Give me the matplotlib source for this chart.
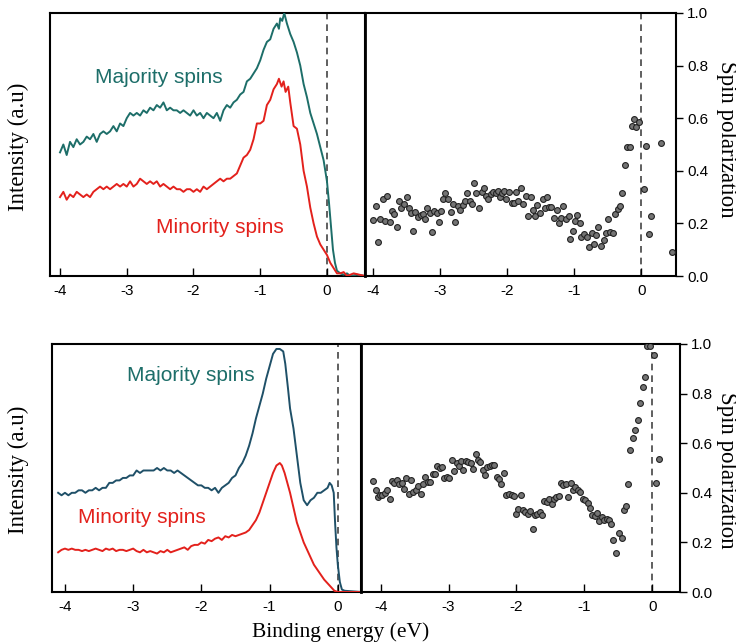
import matplotlib
matplotlib.use('Agg')
import matplotlib.pyplot as plt
import numpy as np

plt.rcParams['axes.unicode_minus'] = False
plt.rcParams['font.family'] = 'Liberation Sans'

# ---- top row: intensity curves (binding energy, normalized intensity) ----
top_maj_x = [-4.00, -3.95, -3.90, -3.85, -3.80, -3.75, -3.70, -3.65, -3.60, -3.55,
             -3.50, -3.45, -3.40, -3.35, -3.30, -3.25, -3.20, -3.15, -3.10, -3.05,
             -3.00, -2.95, -2.90, -2.85, -2.80, -2.75, -2.70, -2.65, -2.60, -2.55,
             -2.50, -2.45, -2.40, -2.35, -2.30, -2.25, -2.20, -2.15, -2.10, -2.05,
             -2.00, -1.95, -1.90, -1.85, -1.80, -1.75, -1.70, -1.65, -1.60, -1.55,
             -1.50, -1.45, -1.40, -1.35, -1.30, -1.25, -1.20, -1.15, -1.10, -1.05,
             -1.00, -0.95, -0.90, -0.85, -0.80, -0.75, -0.72, -0.70, -0.67, -0.64,
             -0.60, -0.55, -0.50, -0.45, -0.40, -0.35, -0.30, -0.25, -0.20, -0.15,
             -0.10, -0.05, 0.00, 0.03, 0.06, 0.09, 0.12, 0.15, 0.20, 0.25,
             0.30, 0.35, 0.45, 0.57]
top_maj_y = [0.47, 0.50, 0.46, 0.51, 0.49, 0.52, 0.50, 0.51, 0.53, 0.52,
             0.54, 0.51, 0.54, 0.55, 0.54, 0.55, 0.57, 0.55, 0.58, 0.57,
             0.60, 0.62, 0.61, 0.62, 0.61, 0.63, 0.62, 0.64, 0.63, 0.65,
             0.64, 0.66, 0.63, 0.64, 0.63, 0.63, 0.62, 0.63, 0.62, 0.61,
             0.63, 0.61, 0.62, 0.60, 0.62, 0.61, 0.60, 0.62, 0.59, 0.63,
             0.65, 0.64, 0.66, 0.67, 0.69, 0.70, 0.74, 0.75, 0.77, 0.79,
             0.82, 0.86, 0.89, 0.90, 0.94, 0.96, 0.94, 0.98, 0.97, 1.00,
             0.96, 0.92, 0.89, 0.85, 0.80, 0.73, 0.68, 0.62, 0.58, 0.54,
             0.49, 0.44, 0.36, 0.28, 0.19, 0.10, 0.05, 0.02, 0.01, 0.005,
             0.01, 0.0, 0.005, 0.0]

top_min_x = [-4.00, -3.95, -3.90, -3.85, -3.80, -3.75, -3.70, -3.65, -3.60, -3.55,
             -3.50, -3.45, -3.40, -3.35, -3.30, -3.25, -3.20, -3.15, -3.10, -3.05,
             -3.00, -2.95, -2.90, -2.85, -2.80, -2.75, -2.70, -2.65, -2.60, -2.55,
             -2.50, -2.45, -2.40, -2.35, -2.30, -2.25, -2.20, -2.15, -2.10, -2.05,
             -2.00, -1.95, -1.90, -1.85, -1.80, -1.75, -1.70, -1.65, -1.60, -1.55,
             -1.50, -1.45, -1.40, -1.35, -1.30, -1.25, -1.20, -1.15, -1.10, -1.05,
             -1.00, -0.95, -0.90, -0.85, -0.80, -0.75, -0.72, -0.68, -0.65, -0.62,
             -0.58, -0.55, -0.50, -0.45, -0.40, -0.35, -0.30, -0.25, -0.20, -0.15,
             -0.10, -0.05, 0.00, 0.05, 0.10, 0.15, 0.20, 0.25, 0.30, 0.40, 0.57]
top_min_y = [0.30, 0.32, 0.29, 0.31, 0.30, 0.32, 0.31, 0.30, 0.31, 0.30,
             0.32, 0.33, 0.34, 0.33, 0.34, 0.33, 0.34, 0.35, 0.34, 0.35,
             0.34, 0.36, 0.34, 0.35, 0.37, 0.36, 0.35, 0.36, 0.35, 0.36,
             0.34, 0.35, 0.34, 0.33, 0.34, 0.33, 0.33, 0.32, 0.33, 0.33,
             0.32, 0.33, 0.32, 0.34, 0.33, 0.34, 0.35, 0.36, 0.37, 0.36,
             0.37, 0.37, 0.38, 0.39, 0.42, 0.45, 0.46, 0.48, 0.52, 0.58,
             0.58, 0.59, 0.65, 0.67, 0.71, 0.73, 0.75, 0.72, 0.74, 0.70,
             0.72, 0.66, 0.57, 0.56, 0.50, 0.40, 0.34, 0.26, 0.20, 0.15,
             0.12, 0.10, 0.08, 0.05, 0.03, 0.01, 0.01, 0.015, 0.0, 0.01, 0.0]

# ---- top row: spin polarization ----
top_pol_x = [-4.00, -3.96, -3.93, -3.89, -3.85, -3.82, -3.79, -3.75, -3.71, -3.68,
             -3.65, -3.61, -3.58, -3.54, -3.50, -3.47, -3.44, -3.40, -3.37, -3.33,
             -3.29, -3.25, -3.22, -3.19, -3.15, -3.12, -3.09, -3.05, -3.02, -2.98,
             -2.95, -2.92, -2.88, -2.84, -2.80, -2.77, -2.73, -2.70, -2.66, -2.63,
             -2.60, -2.56, -2.53, -2.49, -2.46, -2.42, -2.38, -2.35, -2.31, -2.28,
             -2.24, -2.21, -2.17, -2.14, -2.11, -2.07, -2.04, -2.01, -1.97, -1.93,
             -1.90, -1.86, -1.83, -1.79, -1.76, -1.72, -1.69, -1.65, -1.62, -1.58,
             -1.55, -1.51, -1.47, -1.44, -1.41, -1.37, -1.34, -1.30, -1.26, -1.23,
             -1.19, -1.16, -1.12, -1.08, -1.06, -1.02, -0.98, -0.95, -0.91, -0.89,
             -0.85, -0.81, -0.78, -0.74, -0.71, -0.67, -0.64, -0.60, -0.56, -0.53,
             -0.49, -0.46, -0.42, -0.39, -0.35, -0.32, -0.28, -0.24, -0.21, -0.17,
             -0.14, -0.10, -0.07, -0.03, 0.05, 0.07, 0.11, 0.15, 0.29, 0.46]
top_pol_y = [0.213, 0.266, 0.129, 0.218, 0.294, 0.209, 0.306, 0.205, 0.249, 0.234,
             0.187, 0.285, 0.257, 0.272, 0.300, 0.257, 0.240, 0.171, 0.243, 0.225,
             0.232, 0.234, 0.218, 0.257, 0.240, 0.168, 0.249, 0.240, 0.205, 0.249,
             0.291, 0.316, 0.291, 0.244, 0.275, 0.205, 0.268, 0.251, 0.270, 0.285,
             0.314, 0.287, 0.275, 0.354, 0.316, 0.257, 0.320, 0.335, 0.304, 0.291,
             0.313, 0.320, 0.316, 0.325, 0.300, 0.316, 0.323, 0.291, 0.319, 0.278,
             0.276, 0.319, 0.285, 0.333, 0.275, 0.304, 0.228, 0.301, 0.251, 0.228,
             0.270, 0.240, 0.291, 0.257, 0.300, 0.262, 0.262, 0.222, 0.251, 0.200,
             0.222, 0.266, 0.215, 0.230, 0.142, 0.171, 0.209, 0.232, 0.203, 0.149,
             0.161, 0.149, 0.111, 0.162, 0.120, 0.156, 0.187, 0.114, 0.137, 0.165,
             0.218, 0.167, 0.165, 0.234, 0.253, 0.266, 0.316, 0.422, 0.490, 0.490,
             0.572, 0.597, 0.566, 0.585, 0.329, 0.494, 0.161, 0.230, 0.506, 0.092]

# ---- bottom row: intensity curves ----
bot_maj_x = [-4.10, -4.05, -4.00, -3.95, -3.90, -3.85, -3.80, -3.75, -3.70, -3.65,
             -3.60, -3.55, -3.50, -3.45, -3.40, -3.35, -3.30, -3.25, -3.20, -3.15,
             -3.10, -3.05, -3.00, -2.95, -2.90, -2.85, -2.80, -2.75, -2.70, -2.65,
             -2.60, -2.55, -2.50, -2.45, -2.40, -2.35, -2.30, -2.25, -2.20, -2.15,
             -2.10, -2.05, -2.00, -1.95, -1.90, -1.85, -1.80, -1.75, -1.70, -1.65,
             -1.60, -1.55, -1.50, -1.45, -1.40, -1.35, -1.30, -1.25, -1.20, -1.15,
             -1.10, -1.05, -1.00, -0.95, -0.90, -0.85, -0.80, -0.77, -0.73, -0.70,
             -0.65, -0.60, -0.55, -0.50, -0.45, -0.40, -0.35, -0.30, -0.25, -0.20,
             -0.15, -0.12, -0.09, -0.06, -0.04, -0.02, 0.00, 0.03, 0.06, 0.10, 0.34]
bot_maj_y = [0.40, 0.39, 0.40, 0.39, 0.40, 0.40, 0.41, 0.41, 0.40, 0.41,
             0.41, 0.42, 0.41, 0.42, 0.42, 0.44, 0.44, 0.45, 0.45, 0.46,
             0.46, 0.47, 0.47, 0.49, 0.48, 0.49, 0.49, 0.49, 0.49, 0.50,
             0.49, 0.50, 0.49, 0.49, 0.48, 0.49, 0.48, 0.47, 0.46, 0.45,
             0.44, 0.43, 0.43, 0.42, 0.42, 0.41, 0.42, 0.40, 0.42, 0.43,
             0.44, 0.46, 0.47, 0.50, 0.52, 0.55, 0.59, 0.64, 0.70, 0.75,
             0.80, 0.86, 0.91, 0.96, 0.98, 0.98, 0.97, 0.92, 0.82, 0.74,
             0.66, 0.55, 0.44, 0.37, 0.35, 0.37, 0.38, 0.40, 0.40, 0.41,
             0.42, 0.44, 0.43, 0.40, 0.28, 0.18, 0.11, 0.04, 0.01, 0.005, 0.0]

bot_min_x = [-4.10, -4.05, -4.00, -3.95, -3.90, -3.85, -3.80, -3.75, -3.70, -3.65,
             -3.60, -3.55, -3.50, -3.45, -3.40, -3.35, -3.30, -3.25, -3.20, -3.15,
             -3.10, -3.05, -3.00, -2.95, -2.90, -2.85, -2.80, -2.75, -2.70, -2.65,
             -2.60, -2.55, -2.50, -2.45, -2.40, -2.35, -2.30, -2.25, -2.20, -2.15,
             -2.10, -2.05, -2.00, -1.95, -1.90, -1.85, -1.80, -1.75, -1.70, -1.65,
             -1.60, -1.55, -1.50, -1.45, -1.40, -1.35, -1.30, -1.25, -1.20, -1.15,
             -1.10, -1.05, -1.00, -0.95, -0.90, -0.85, -0.82, -0.78, -0.75, -0.70,
             -0.65, -0.60, -0.55, -0.50, -0.45, -0.40, -0.35, -0.30, -0.25, -0.20,
             -0.15, -0.10, -0.05, 0.00, 0.34]
bot_min_y = [0.16, 0.17, 0.175, 0.17, 0.175, 0.17, 0.17, 0.165, 0.17, 0.165,
             0.17, 0.175, 0.17, 0.165, 0.175, 0.17, 0.175, 0.165, 0.17, 0.17,
             0.165, 0.17, 0.175, 0.165, 0.16, 0.17, 0.16, 0.165, 0.16, 0.155,
             0.165, 0.16, 0.17, 0.16, 0.165, 0.17, 0.175, 0.18, 0.17, 0.185,
             0.19, 0.19, 0.20, 0.195, 0.21, 0.205, 0.215, 0.22, 0.21, 0.225,
             0.22, 0.23, 0.225, 0.23, 0.235, 0.24, 0.25, 0.27, 0.29, 0.32,
             0.36, 0.40, 0.44, 0.48, 0.51, 0.52, 0.51, 0.48, 0.45, 0.40,
             0.34, 0.28, 0.24, 0.20, 0.17, 0.14, 0.11, 0.09, 0.07, 0.05,
             0.035, 0.02, 0.005, 0.0, 0.0]

# ---- bottom row: spin polarization ----
bot_pol_x = [-4.11, -4.07, -4.04, -4.01, -3.98, -3.94, -3.90, -3.86, -3.83, -3.80,
             -3.76, -3.73, -3.69, -3.65, -3.62, -3.58, -3.55, -3.52, -3.48, -3.45,
             -3.41, -3.38, -3.34, -3.31, -3.27, -3.23, -3.20, -3.17, -3.13, -3.09,
             -3.06, -3.03, -2.99, -2.95, -2.92, -2.88, -2.85, -2.81, -2.78, -2.74,
             -2.71, -2.67, -2.64, -2.60, -2.56, -2.53, -2.49, -2.46, -2.43, -2.39,
             -2.36, -2.33, -2.29, -2.26, -2.22, -2.18, -2.15, -2.11, -2.07, -2.04,
             -2.00, -1.97, -1.93, -1.90, -1.87, -1.83, -1.80, -1.76, -1.73, -1.69,
             -1.66, -1.62, -1.59, -1.55, -1.52, -1.48, -1.44, -1.41, -1.37, -1.34,
             -1.31, -1.27, -1.24, -1.20, -1.16, -1.13, -1.09, -1.06, -1.02, -0.99,
             -0.95, -0.91, -0.88, -0.84, -0.81, -0.78, -0.74, -0.71, -0.67, -0.64,
             -0.60, -0.57, -0.53, -0.49, -0.45, -0.42, -0.39, -0.35, -0.32, -0.28,
             -0.25, -0.21, -0.18, -0.14, -0.11, -0.07, -0.03, 0.03, 0.06, 0.10]
bot_pol_y = [0.447, 0.410, 0.384, 0.390, 0.393, 0.400, 0.413, 0.377, 0.447, 0.440,
             0.451, 0.437, 0.440, 0.417, 0.458, 0.397, 0.451, 0.404, 0.410, 0.427,
             0.397, 0.435, 0.464, 0.444, 0.444, 0.475, 0.475, 0.507, 0.498, 0.505,
             0.460, 0.464, 0.458, 0.534, 0.487, 0.521, 0.507, 0.528, 0.491, 0.528,
             0.525, 0.522, 0.494, 0.556, 0.534, 0.525, 0.491, 0.471, 0.505, 0.507,
             0.511, 0.511, 0.464, 0.454, 0.435, 0.480, 0.393, 0.397, 0.390, 0.388,
             0.314, 0.336, 0.390, 0.330, 0.323, 0.316, 0.327, 0.253, 0.310, 0.314,
             0.323, 0.310, 0.367, 0.363, 0.377, 0.354, 0.377, 0.384, 0.386, 0.440,
             0.431, 0.437, 0.384, 0.440, 0.413, 0.424, 0.410, 0.404, 0.373, 0.370,
             0.359, 0.339, 0.310, 0.306, 0.319, 0.287, 0.303, 0.292, 0.296, 0.289,
             0.276, 0.211, 0.157, 0.236, 0.219, 0.332, 0.347, 0.435, 0.572, 0.622,
             0.655, 0.693, 0.763, 0.825, 0.868, 0.992, 0.992, 0.956, 0.441, 0.538]

W, H = 736, 644
MAJ_TOP = '#1d6e69'
MAJ_BOT = '#1f5068'
MINORITY = '#e3211c'


def box(x0, y0, x1, y1):
    """pixel box (left, top, right, bottom) -> figure fraction rect"""
    return [x0 / W, 1 - y1 / H, (x1 - x0) / W, (y1 - y0) / H]


def style_axes(ax, xlim, spin=False):
    ax.set_xlim(*xlim)
    ax.set_ylim(0, 1.0)
    ax.set_xticks([-4, -3, -2, -1, 0])
    ax.tick_params(axis='x', direction='in', length=6, width=1.0,
                   labelsize=11, pad=6)
    for s in ax.spines.values():
        s.set_linewidth(1.5)
    if spin:
        ax.yaxis.tick_right()
        ax.set_yticks([0.0, 0.2, 0.4, 0.6, 0.8, 1.0])
        ax.set_yticklabels(['%.1f' % v for v in [0.0, 0.2, 0.4, 0.6, 0.8, 1.0]])
        ax.tick_params(axis='y', direction='out', length=5, width=1.0,
                       labelsize=11, pad=3)
        ax.spines['left'].set_linewidth(2.0)
    else:
        ax.set_yticks([])
    ax.axvline(0, color='#444444', lw=1.2, ls=(0, (4, 3)), zorder=1)


fig = plt.figure(figsize=(W / 100, H / 100), dpi=100)

# top row
ax1 = fig.add_axes(box(50, 13, 365, 276))
style_axes(ax1, (-4.15, 0.57))
ax1.plot(top_maj_x, top_maj_y, color=MAJ_TOP, lw=1.4, zorder=3)
ax1.plot(top_min_x, top_min_y, color=MINORITY, lw=1.4, zorder=3)
ax1.text(0.143, 0.753, 'Majority spins', color=MAJ_TOP, fontsize=15,
         transform=ax1.transAxes, va='center', ha='left')
ax1.text(0.337, 0.183, 'Minority spins', color=MINORITY, fontsize=15,
         transform=ax1.transAxes, va='center', ha='left')

ax2 = fig.add_axes(box(365, 13, 676, 276))
style_axes(ax2, (-4.12, 0.52), spin=True)
ax2.plot(top_pol_x, top_pol_y, 'o', ms=4.2, mfc='#747474', mec='#222222',
         mew=0.8, zorder=3)

# bottom row
ax3 = fig.add_axes(box(52, 344, 361, 592))
style_axes(ax3, (-4.19, 0.34))
ax3.plot(bot_maj_x, bot_maj_y, color=MAJ_BOT, lw=1.4, zorder=3)
ax3.plot(bot_min_x, bot_min_y, color=MINORITY, lw=1.4, zorder=3)
ax3.text(0.243, 0.871, 'Majority spins', color=MAJ_TOP, fontsize=15,
         transform=ax3.transAxes, va='center', ha='left')
ax3.text(0.084, 0.302, 'Minority spins', color=MINORITY, fontsize=15,
         transform=ax3.transAxes, va='center', ha='left')

ax4 = fig.add_axes(box(361, 344, 680, 592))
style_axes(ax4, (-4.29, 0.41), spin=True)
ax4.plot(bot_pol_x, bot_pol_y, 'o', ms=4.2, mfc='#747474', mec='#222222',
         mew=0.8, zorder=3)

# axis titles
serif = 'Liberation Serif'
fig.text(18 / W, 1 - 147 / H, 'Intensity (a.u)', rotation=90, family=serif,
         fontsize=16.5, ha='center', va='center')
fig.text(18 / W, 1 - 470 / H, 'Intensity (a.u)', rotation=90, family=serif,
         fontsize=16.5, ha='center', va='center')
fig.text(726 / W, 1 - 139 / H, 'Spin polarization', rotation=-90, family=serif,
         fontsize=16.5, ha='center', va='center')
fig.text(726 / W, 1 - 470 / H, 'Spin polarization', rotation=-90, family=serif,
         fontsize=16.5, ha='center', va='center')
fig.text(341 / W, 1 - 632 / H, 'Binding energy (eV)', family=serif,
         fontsize=15.5, ha='center', va='center')

fig.savefig('out.png', dpi=100)
plt.close(fig)
